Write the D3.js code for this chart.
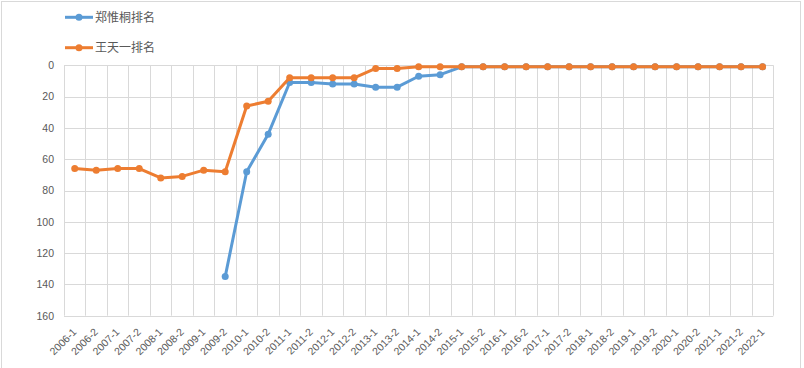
<!DOCTYPE html>
<html><head><meta charset="utf-8">
<script src="https://cdn.jsdelivr.net/npm/d3@7"></script>
<style>body{margin:0;background:#fff}svg{display:block}text{font-family:"Microsoft YaHei","Noto Sans CJK SC","DejaVu Sans",sans-serif}</style>
</head><body>
<svg id="c" width="804" height="368"></svg>
<script>
const categories = ["2006-1","2006-2","2007-1","2007-2","2008-1","2008-2","2009-1","2009-2","2010-1","2010-2","2011-1","2011-2","2012-1","2012-2","2013-1","2013-2","2014-1","2014-2","2015-1","2015-2","2016-1","2016-2","2017-1","2017-2","2018-1","2018-2","2019-1","2019-2","2020-1","2020-2","2021-1","2021-2","2022-1"];
const zhengRank = [null,null,null,null,null,null,null,135,68,44,11,11,12,12,14,14,7,6,1,1,1,1,1,1,1,1,1,1,1,1,1,1,1];
const wangRank = [66,67,66,66,72,71,67,68,26,23,8,8,8,8,2,2,1,1,1,1,1,1,1,1,1,1,1,1,1,1,1,1,1];
const yTicks = [0,20,40,60,80,100,120,140,160];
const seriesNames = ["郑惟桐排名","王天一排名"];
const colors = ["#5B9BD5","#ED7D31"];

(function(){
const svg = d3.select("#c");
svg.append("rect").attr("x",1.5).attr("y",1.5).attr("width",799).attr("height",380)
  .attr("fill","#fff").attr("stroke","#d9d9d9");

const pL=64, pR=773.3, pT=65.3, pB=315.7;
const x = d3.scaleBand().domain(categories).range([pL,pR]);
const y = d3.scaleLinear().domain([0,160]).range([pT,pB]);

svg.append("g").selectAll("line").data(yTicks).join("line")
  .attr("x1",pL).attr("x2",pR).attr("y1",d=>Math.round(y(d))+0.5).attr("y2",d=>Math.round(y(d))+0.5)
  .attr("stroke","#d9d9d9").attr("stroke-width",1);
const bounds = categories.map(c=>x(c)).concat([pR]);
svg.append("g").selectAll("line").data(bounds).join("line")
  .attr("x1",d=>Math.round(d)+0.5).attr("x2",d=>Math.round(d)+0.5).attr("y1",pT).attr("y2",pB)
  .attr("stroke","#d9d9d9").attr("stroke-width",1);

const yAxis = d3.axisLeft(y).tickValues(yTicks).tickSize(0).tickPadding(10);
const yg = svg.append("g").attr("transform",`translate(${pL},0)`).call(yAxis);
yg.select(".domain").remove();
yg.selectAll("text").attr("fill","#595959").style("font-size","10.5px").style("font-family","'Liberation Sans',Arial,sans-serif");

const xAxis = d3.axisBottom(x).tickSize(0).tickPadding(0);
const xg = svg.append("g").attr("transform",`translate(0,${pB})`).call(xAxis);
xg.select(".domain").remove();
xg.selectAll("text").attr("fill","#595959").style("font-size","10.5px").style("font-family","'Liberation Sans',Arial,sans-serif")
  .attr("text-anchor","end").attr("dy",0).attr("y",0)
  .attr("transform","translate(2.5,17) rotate(-45)");

const line = d3.line().defined(d=>d.v!=null).x(d=>x(d.c)+x.bandwidth()/2).y(d=>y(d.v));
[zhengRank,wangRank].forEach((vals,i)=>{
  const data = categories.map((c,j)=>({c,v:vals[j]}));
  const g = svg.append("g");
  g.append("path").datum(data).attr("d",line).attr("fill","none")
    .attr("stroke",colors[i]).attr("stroke-width",3).attr("stroke-linejoin","round");
  g.selectAll("circle").data(data.filter(d=>d.v!=null)).join("circle")
    .attr("cx",d=>x(d.c)+x.bandwidth()/2).attr("cy",d=>y(d.v)).attr("r",3.5).attr("fill",colors[i]);
});

const lg = svg.append("g");
seriesNames.forEach((n,i)=>{
  const ly = 17.3 + i*30.4;
  lg.append("line").attr("x1",65).attr("x2",93).attr("y1",ly).attr("y2",ly).attr("stroke",colors[i]).attr("stroke-width",3);
  lg.append("circle").attr("cx",79).attr("cy",ly).attr("r",3.5).attr("fill",colors[i]);
  lg.append("text").attr("x",95).attr("y",ly).attr("dy","0.35em").attr("fill","#595959").style("font-size","12px").text(n);
});
})();
</script>
</body></html>
